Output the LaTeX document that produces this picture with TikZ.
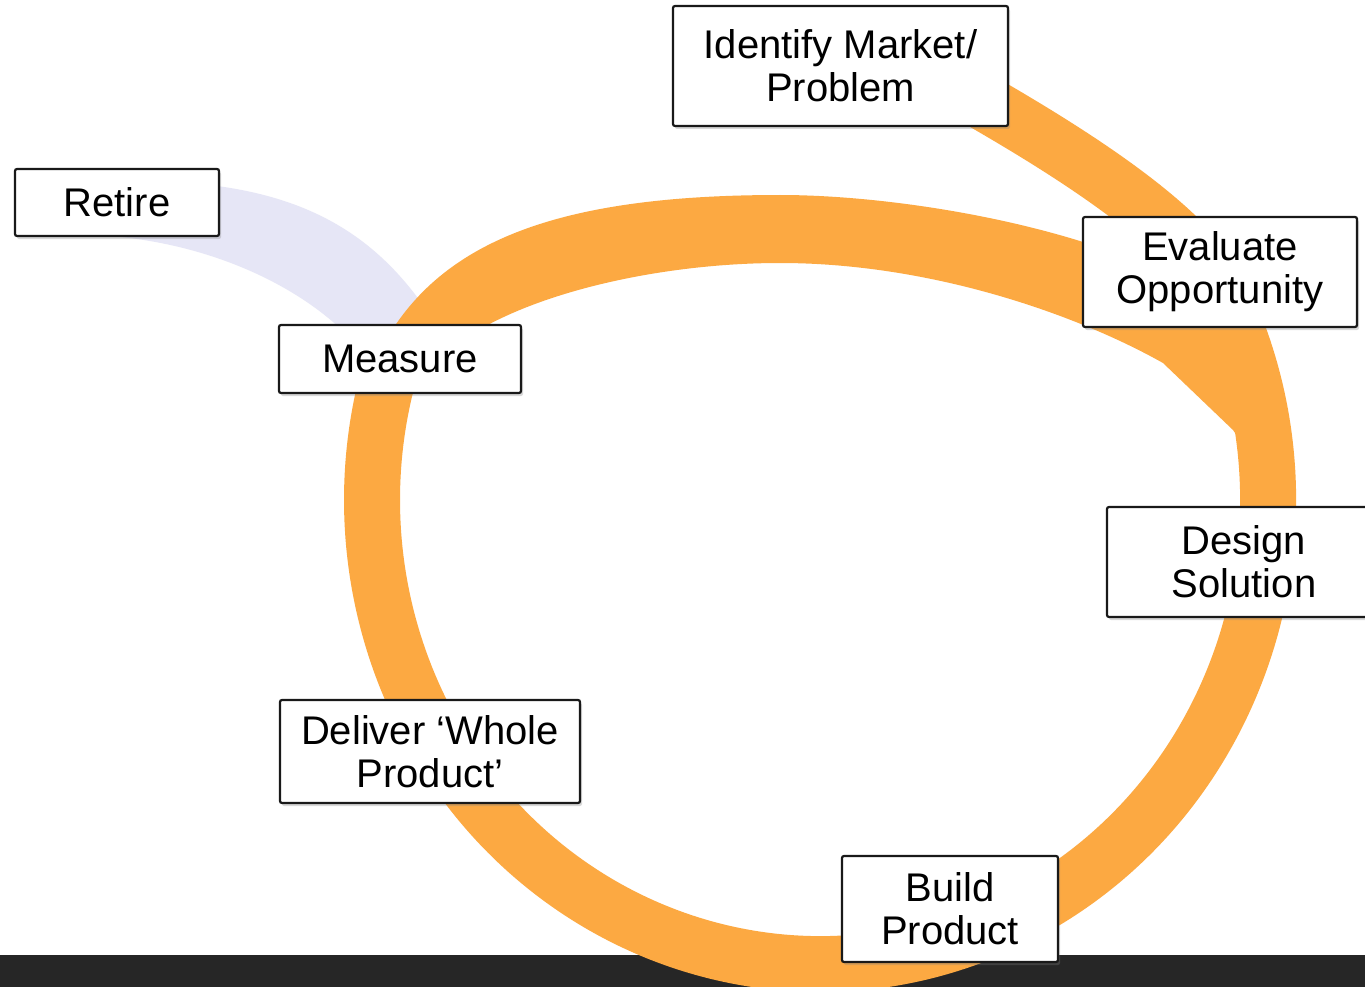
\documentclass[tikz,border=0pt]{standalone}
\usepackage{fontspec}
\setmainfont{Liberation Sans}
\usetikzlibrary{shadows}
\definecolor{looporange}{RGB}{252,169,66}
\definecolor{lavcol}{RGB}{230,230,246}
\definecolor{barcol}{RGB}{38,38,38}
\begin{document}
\begin{tikzpicture}[x=1pt,y=-1pt,
  stage/.style={draw=black!90, line width=2.2pt, fill=white, rounded corners=2pt,
    inner sep=0pt, align=center, font=\fontsize{40}{43}\selectfont,
    drop shadow={shadow xshift=2pt,shadow yshift=-3pt,opacity=0.3}},
  band/.style={looporange, line width=56pt}
]
\useasboundingbox (0,0) rectangle (1365,987);
\fill[white] (0,0) rectangle (1365,987);
% bottom bar
\fill[barcol] (0,955) rectangle (1365,987);
% lavender retire arc
\fill[lavcol] (130,181) .. controls (290,180) and (380,225) .. (445,340)
  -- (352,340) .. controls (300,285) and (210,244) .. (110,236) -- cycle;
% main orange loop: outer spiral piece from Identify, then elliptical sweep
\draw[band] (960,89) .. controls (1125,182) and (1202,246) .. (1228,304);
\draw[band] (820,500) ++(-25:448 and 464) coordinate (e0)
  arc[start angle=-25, end angle=197, x radius=448, y radius=464];
% inner orange arc from Measure over the top into the right side
\fill[looporange] (355,420) -- (360,400)
  .. controls (406,253) and (530,195) .. (780,195)
  .. controls (930,195) and (1183,244) .. (1255,340)
  -- (1284,420) -- (1240,440) -- (1233,430) -- (1163,363)
  .. controls (1076,314) and (930,263) .. (780,263)
  .. controls (620,263) and (417,318) .. (405,420) -- cycle;
% stage boxes
\node[stage, minimum width=335pt, minimum height=120pt] (identify) at (840.5,66) {Identify Market/\\Problem};
\node[stage, minimum width=204pt, minimum height=67pt] (retire) at (117,202.5) {Retire};
\node[stage, minimum width=242pt, minimum height=68pt] (measure) at (400,359) {Measure};
\node[stage, minimum width=274pt, minimum height=110pt] (evaluate) at (1220,272) {Evaluate\\Opportunity};
\node[stage, minimum width=274pt, minimum height=110pt] (design) at (1244,562) {Design\\Solution};
\node[stage, minimum width=300pt, minimum height=103pt] (deliver) at (430,751.5) {Deliver ‘Whole\\Product’};
\node[stage, minimum width=216pt, minimum height=106pt] (build) at (950,909) {Build\\Product};
\end{tikzpicture}
\end{document}
